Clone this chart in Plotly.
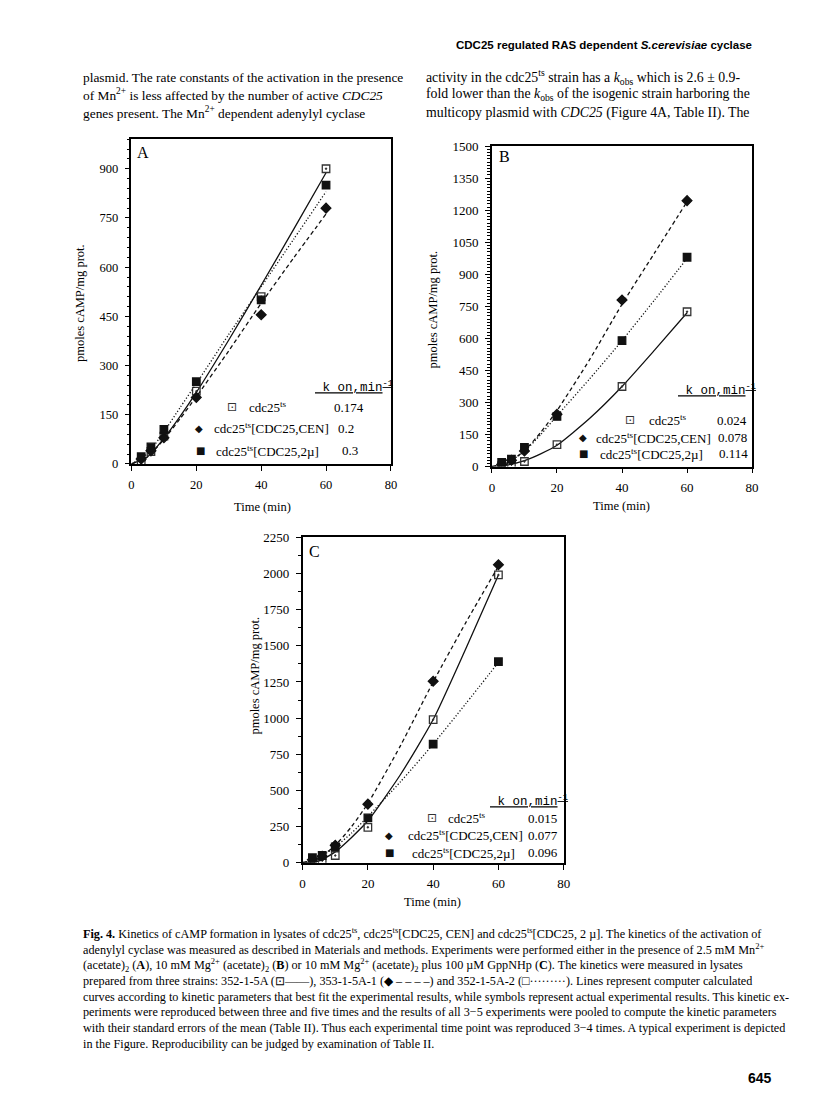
import plotly.graph_objects as go

# The page body has an 8px margin, so the figure is 16px smaller than the window
OFF = 8
W, H = 800, 1077

# ---------------- data ----------------
time_pts = [3, 6, 10, 20, 40, 60]
fit_t = [0, 5, 10, 15, 20, 30, 40, 50, 60]

# Panel A (Mn2+)
A_ts = [8, 38, 85, 222, 510, 900]
A_cen = [15, 40, 80, 203, 455, 780]
A_2mu = [22, 52, 105, 251, 500, 850]
A_ts_fit = [0, 22, 78, 145, 218, 378, 545, 715, 888]
A_cen_fit = [0, 22, 75, 138, 205, 345, 490, 628, 762]
A_2mu_fit = [0, 32, 98, 172, 245, 395, 540, 685, 830]

# Panel B (Mg2+)
B_ts = [5, 12, 24, 103, 375, 725]
B_cen = [10, 30, 73, 245, 780, 1245]
B_2mu = [20, 35, 90, 235, 590, 980]
B_ts_fit = [0, 8, 28, 60, 100, 225, 375, 545, 720]
B_cen_fit = [0, 20, 75, 160, 262, 500, 760, 1000, 1240]
B_2mu_fit = [0, 20, 72, 150, 238, 410, 590, 780, 975]

# Panel C (Mg2+ + GppNHp)
C_ts = [10, 20, 50, 245, 990, 1990]
C_cen = [20, 45, 120, 405, 1255, 2060]
C_2mu = [35, 50, 110, 310, 820, 1390]
C_ts_fit = [0, 12, 75, 175, 290, 610, 990, 1480, 1990]
C_cen_fit = [0, 35, 120, 250, 410, 810, 1250, 1660, 2050]
C_2mu_fit = [0, 35, 110, 205, 320, 560, 820, 1100, 1385]

strains = ["cdc25<sup>ts</sup>", "cdc25<sup>ts</sup>[CDC25,CEN]", "cdc25<sup>ts</sup>[CDC25,2\u00b5]"]
k_A = ["0.174", "0.2", "0.3"]
k_B = ["0.024", "0.078", "0.114"]
k_C = ["0.015", "0.077", "0.096"]

x_ticks = [0, 20, 40, 60, 80]
yticks_A = [0, 150, 300, 450, 600, 750, 900]
yticks_B = [0, 150, 300, 450, 600, 750, 900, 1050, 1200, 1350, 1500]
yticks_C = [0, 250, 500, 750, 1000, 1250, 1500, 1750, 2000, 2250]

# ---------------- helpers ----------------
def px(x):
    return (x - OFF) / W

def py(y):
    return 1 - (y - OFF) / H

SERIF = "Liberation Serif"
SANS = "Liberation Sans"
BLACK = "#111111"

styles = {
    "ts": dict(dash="solid", symbol="square-open-dot", size=7.5, color="#333333"),
    "cen": dict(dash="4px,3px", symbol="diamond", size=7.5, color=BLACK),
    "2mu": dict(dash="1.2px,2px", symbol="square", size=7.5, color=BLACK),
}

fig = go.Figure()

panels = [
    ("x", "y", dict(ts=(A_ts, A_ts_fit), cen=(A_cen, A_cen_fit), mu=(A_2mu, A_2mu_fit))),
    ("x2", "y2", dict(ts=(B_ts, B_ts_fit), cen=(B_cen, B_cen_fit), mu=(B_2mu, B_2mu_fit))),
    ("x3", "y3", dict(ts=(C_ts, C_ts_fit), cen=(C_cen, C_cen_fit), mu=(C_2mu, C_2mu_fit))),
]

for xa, ya, d in panels:
    for key, sk in (("ts", "ts"), ("cen", "cen"), ("mu", "2mu")):
        pts, fit = d[key]
        st = styles[sk]
        fig.add_trace(go.Scatter(
            x=fit_t, y=fit, mode="lines", xaxis=xa, yaxis=ya,
            line=dict(color=BLACK, width=1.3, dash=st["dash"], shape="spline", smoothing=0.6),
            showlegend=False, hoverinfo="skip"))
        fig.add_trace(go.Scatter(
            x=time_pts, y=pts, mode="markers", xaxis=xa, yaxis=ya,
            marker=dict(symbol=st["symbol"], size=st["size"], color=st["color"],
                        line=dict(color=st["color"], width=1.3)),
            showlegend=False, hoverinfo="skip"))


def xaxis_cfg(x0, x1, anchor, fs):
    return dict(domain=[px(x0), px(x1)], range=[0, 80], tickvals=x_ticks, anchor=anchor,
                ticks="outside", ticklen=5, tickwidth=1.3, tickcolor="black",
                showline=True, linewidth=1.6, linecolor="black", mirror=True,
                showgrid=False, zeroline=False, ticklabelstandoff=3,
                tickfont=dict(family=SERIF, size=fs, color="black"))


def yaxis_cfg(y_top, y_bot, rng, tickvals, minor, anchor, fs):
    return dict(domain=[py(y_bot), py(y_top)], range=rng, tickvals=tickvals, anchor=anchor,
                ticks="outside", ticklen=5, tickwidth=1.3, tickcolor="black",
                showline=True, linewidth=1.6, linecolor="black", mirror=True,
                showgrid=False, zeroline=False, ticklabelstandoff=4,
                minor=dict(dtick=minor, tick0=0, ticks="outside", ticklen=3, tickwidth=1,
                           tickcolor="black", showgrid=False),
                tickfont=dict(family=SERIF, size=fs, color="black"))


fig.update_layout(
    width=W, height=H, margin=dict(l=0, r=0, t=0, b=0),
    paper_bgcolor="white", plot_bgcolor="white", showlegend=False,
    xaxis=xaxis_cfg(130, 392.7, "y", 12.5),
    yaxis=yaxis_cfg(134, 463.3, [0, 990], yticks_A, 30, "x", 12.5),
    xaxis2=xaxis_cfg(495, 758.5, "y2", 13),
    yaxis2=yaxis_cfg(141, 466, [0, 1500], yticks_B, 15, "x2", 13),
    xaxis3=xaxis_cfg(303.3, 567.7, "y3", 13),
    yaxis3=yaxis_cfg(537.7, 867.7, [0, 2250], yticks_C, 125, "x3", 13),
)

ann = []

def text(x, y, s, size=12, family=SERIF, xanchor="center", angle=0, color="black"):
    ann.append(dict(x=px(x), y=py(y), xref="paper", yref="paper", text=s, showarrow=False,
                    xanchor=xanchor, yanchor="middle", textangle=angle, borderpad=0,
                    font=dict(family=family, size=size, color=color)))

# panel letters
text(141.5, 147, "A", 16)
text(507.7, 151, "B", 16)
text(315, 552, "C", 16)

# axis titles
for (xx, yy) in ((262.7, 507), (626, 506), (434.5, 908)):
    text(xx, yy, "Time (min)", 12.5)
for (xx, yy) in ((78, 300), (435, 307), (255, 678)):
    text(xx, yy, "pmoles cAMP/mg prot.", 12.5, angle=-90)

# in-plot legends (marker, strain, k value)
sym = ["\u22a1", "\u25c6", "\u25a0"]
sym_size = [12, 10, 10]
sym_color = ["#333333", BLACK, BLACK]

def legend(header_xy, rows, kvals):
    hx, hy = header_xy
    text(hx, hy, "<u>\u00a0k on,min<sup>-1</sup></u>", 12.5, family="Liberation Mono")
    for i, (mx, my, lx, vx) in enumerate(rows):
        text(mx, my, sym[i], sym_size[i], family="DejaVu Sans", color=sym_color[i])
        text(lx, my, strains[i], 13)
        text(vx, my, kvals[i], 13)

legend((355, 385), [(231.7, 406, 268, 350), (198, 427, 271.7, 347.7), (200, 450, 267.7, 351.7)], k_A)
legend((723, 388), [(635, 419, 673.3, 738.3), (587.7, 436.7, 658.3, 738.3), (587.7, 452.7, 656.7, 740)], k_B)
legend((533, 805), [(434.3, 822.7, 470, 546), (391, 840, 468, 547), (391, 857.7, 466.7, 547)], k_C)

# page header and body text
text(759, 38, "<b>CDC25 regulated RAS dependent <i>S.cerevisiae</i> cyclase</b>", 11.5, family=SANS, xanchor="right")

left_col = [
    "plasmid. The rate constants of the activation in the presence",
    "of Mn<sup>2+</sup> is less affected by the number of active <i>CDC25</i>",
    "genes present. The Mn<sup>2+</sup> dependent adenylyl cyclase",
]
right_col = [
    "activity in the cdc25<sup>ts</sup> strain has a <i>k</i><sub>obs</sub> which is 2.6 \u00b1 0.9-",
    "fold lower than the <i>k</i><sub>obs</sub> of the isogenic strain harboring the",
    "multicopy plasmid with <i>CDC25</i> (Figure 4A, Table II). The",
]
for i, s in enumerate(left_col):
    text(80, 71 + 18 * i, s, 13.4, xanchor="left")
for i, s in enumerate(right_col):
    text(427, 71 + 18 * i, s, 13.8, xanchor="left")

caption = [
    "<b>Fig. 4.</b> Kinetics of cAMP formation in lysates of cdc25<sup>ts</sup>, cdc25<sup>ts</sup>[CDC25, CEN] and cdc25<sup>ts</sup>[CDC25, 2 \u00b5]. The kinetics of the activation of",
    "adenylyl cyclase was measured as described in Materials and methods. Experiments were performed either in the presence of 2.5 mM Mn<sup>2+</sup>",
    "(acetate)<sub>2</sub> (<b>A</b>), 10 mM Mg<sup>2+</sup> (acetate)<sub>2</sub> (<b>B</b>) or 10 mM Mg<sup>2+</sup> (acetate)<sub>2</sub> plus 100 \u00b5M GppNHp (<b>C</b>). The kinetics were measured in lysates",
    "prepared from three strains: 352-1-5A (\u22a1\u2014\u2014), 353-1-5A-1 (\u25c6 \u2013 \u2013 \u2013 \u2013) and 352-1-5A-2 (\u25a1\u00b7\u00b7\u00b7\u00b7\u00b7\u00b7\u00b7\u00b7\u00b7). Lines represent computer calculated",
    "curves according to kinetic parameters that best fit the experimental results, while symbols represent actual experimental results. This kinetic ex-",
    "periments were reproduced between three and five times and the results of all 3\u22125 experiments were pooled to compute the kinetic parameters",
    "with their standard errors of the mean (Table II). Thus each experimental time point was reproduced 3\u22124 times. A typical experiment is depicted",
    "in the Figure. Reproducibility can be judged by examination of Table II.",
]
for i, s in enumerate(caption):
    text(80, 939 + 16.1 * i, s, 12.2, xanchor="left")

text(780, 1086, "<b>645</b>", 14, family=SANS, xanchor="right")

fig.update_layout(annotations=ann)
fig.write_html("out.html")
